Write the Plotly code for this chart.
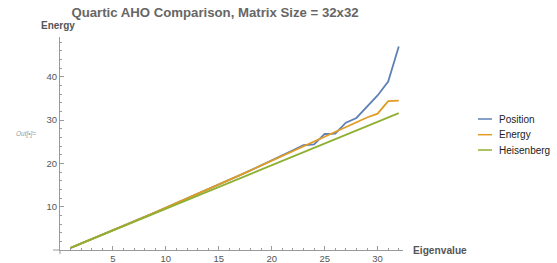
import plotly.graph_objects as go

eigen_index = list(range(1, 33))

position = [0.5, 1.5, 2.51, 3.53, 4.55, 5.58, 6.61, 7.65, 8.70, 9.75,
            10.81, 11.88, 12.95, 14.02, 15.11, 16.20, 17.29, 18.40, 19.50, 20.62,
            21.85, 23.0, 24.2, 24.4, 26.8, 26.9, 29.4, 30.5, 33.0, 35.7,
            38.9, 47.0]

energy = [0.5, 1.5, 2.51, 3.53, 4.55, 5.58, 6.61, 7.65, 8.70, 9.75,
          10.81, 11.88, 12.95, 14.02, 15.11, 16.20, 17.29, 18.40, 19.50, 20.62,
          21.74, 22.85, 23.9, 25.0, 26.1, 27.2, 28.3, 29.5, 30.6, 31.5,
          34.4, 34.5]

heisenberg = [0.5, 1.5, 2.5, 3.5, 4.5, 5.5, 6.5, 7.5, 8.5, 9.5,
              10.5, 11.5, 12.5, 13.5, 14.5, 15.5, 16.5, 17.5, 18.5, 19.5,
              20.5, 21.5, 22.5, 23.5, 24.5, 25.5, 26.5, 27.5, 28.5, 29.5,
              30.55, 31.6]

series_names = ["Position", "Energy", "Heisenberg"]
series_colors = ["#5E81B5", "#E19C24", "#8FB032"]
x_ticks = [5, 10, 15, 20, 25, 30]
y_ticks = [10, 20, 30, 40]

FONT = "Liberation Sans, Arial, sans-serif"
PW, PH = 343.0, 213.0  # plot area size in px

fig = go.Figure()
for name, vals, col in zip(series_names, [position, energy, heisenberg], series_colors):
    fig.add_trace(go.Scatter(x=eigen_index, y=vals, mode="lines", name=name,
                             line=dict(color=col, width=1.8), showlegend=False))

axis_col = "#9a9a9a"
tick_font = dict(family=FONT, size=9.5, color="#555555")

fig.update_layout(
    width=557, height=263,
    margin=dict(l=60, r=154, t=37, b=13, autoexpand=False),
    paper_bgcolor="white", plot_bgcolor="white",
    title=dict(text="<b>Quartic AHO Comparison, Matrix Size = 32x32</b>",
               x=215/557, xanchor="center", y=1 - 12/263, yanchor="middle",
               font=dict(family=FONT, size=13.2, color="#666666")),
    showlegend=False,
    xaxis=dict(range=[0, 32.4], showgrid=False, zeroline=False, showline=True,
               linecolor=axis_col, linewidth=1,
               tickmode="array", tickvals=x_ticks, ticks="inside", ticklen=4,
               tickcolor=axis_col, tickfont=tick_font,
               minor=dict(dtick=1, ticks="inside", ticklen=2, tickcolor=axis_col, showgrid=False)),
    yaxis=dict(range=[0, 49.2], showgrid=False, zeroline=False, showline=True,
               linecolor=axis_col, linewidth=1,
               tickmode="array", tickvals=y_ticks, ticks="inside", ticklen=4,
               tickcolor=axis_col, tickfont=tick_font,
               minor=dict(dtick=2, ticks="inside", ticklen=2, tickcolor=axis_col, showgrid=False)),
)

# axis overhang past the origin
fig.add_shape(type="line", xref="paper", yref="paper", x0=-7/PW, x1=0, y0=0, y1=0,
              line=dict(color=axis_col, width=1))
fig.add_shape(type="line", xref="paper", yref="paper", x0=0, x1=0, y0=-4/PH, y1=0,
              line=dict(color=axis_col, width=1))

# manual legend (pixel positions converted to paper coords)
def px_x(px):
    return (px - 60) / PW

def px_y(py):
    return (250 - py) / PH

legend_rows = [119, 134.7, 150]
for name, col, ry in zip(series_names, series_colors, legend_rows):
    fig.add_shape(type="line", xref="paper", yref="paper",
                  x0=px_x(478), x1=px_x(492), y0=px_y(ry), y1=px_y(ry),
                  line=dict(color=col, width=1.5))
    fig.add_annotation(text=name, xref="paper", yref="paper",
                       x=px_x(497), y=px_y(ry), xanchor="left", yanchor="middle",
                       showarrow=False, font=dict(family=FONT, size=10, color="#222222"))

fig.add_annotation(text="<b>Energy</b>", xref="paper", yref="paper",
                   x=px_x(39), y=px_y(26), xanchor="left", yanchor="middle", showarrow=False,
                   font=dict(family=FONT, size=10, color="#555555"))
fig.add_annotation(text="<b>Eigenvalue</b>", xref="paper", yref="paper",
                   x=px_x(411), y=px_y(250.5), xanchor="left", yanchor="middle", showarrow=False,
                   font=dict(family=FONT, size=10.2, color="#555555"))
fig.add_annotation(text="<i>Out[\u2022]=</i>", xref="paper", yref="paper",
                   x=px_x(14), y=px_y(134), xanchor="left", yanchor="middle", showarrow=False,
                   font=dict(family=FONT, size=6.5, color="#999999"))

fig.write_html("out.html", config={"displayModeBar": False},
               post_script="document.body.style.margin='0';document.body.style.padding='0';")
